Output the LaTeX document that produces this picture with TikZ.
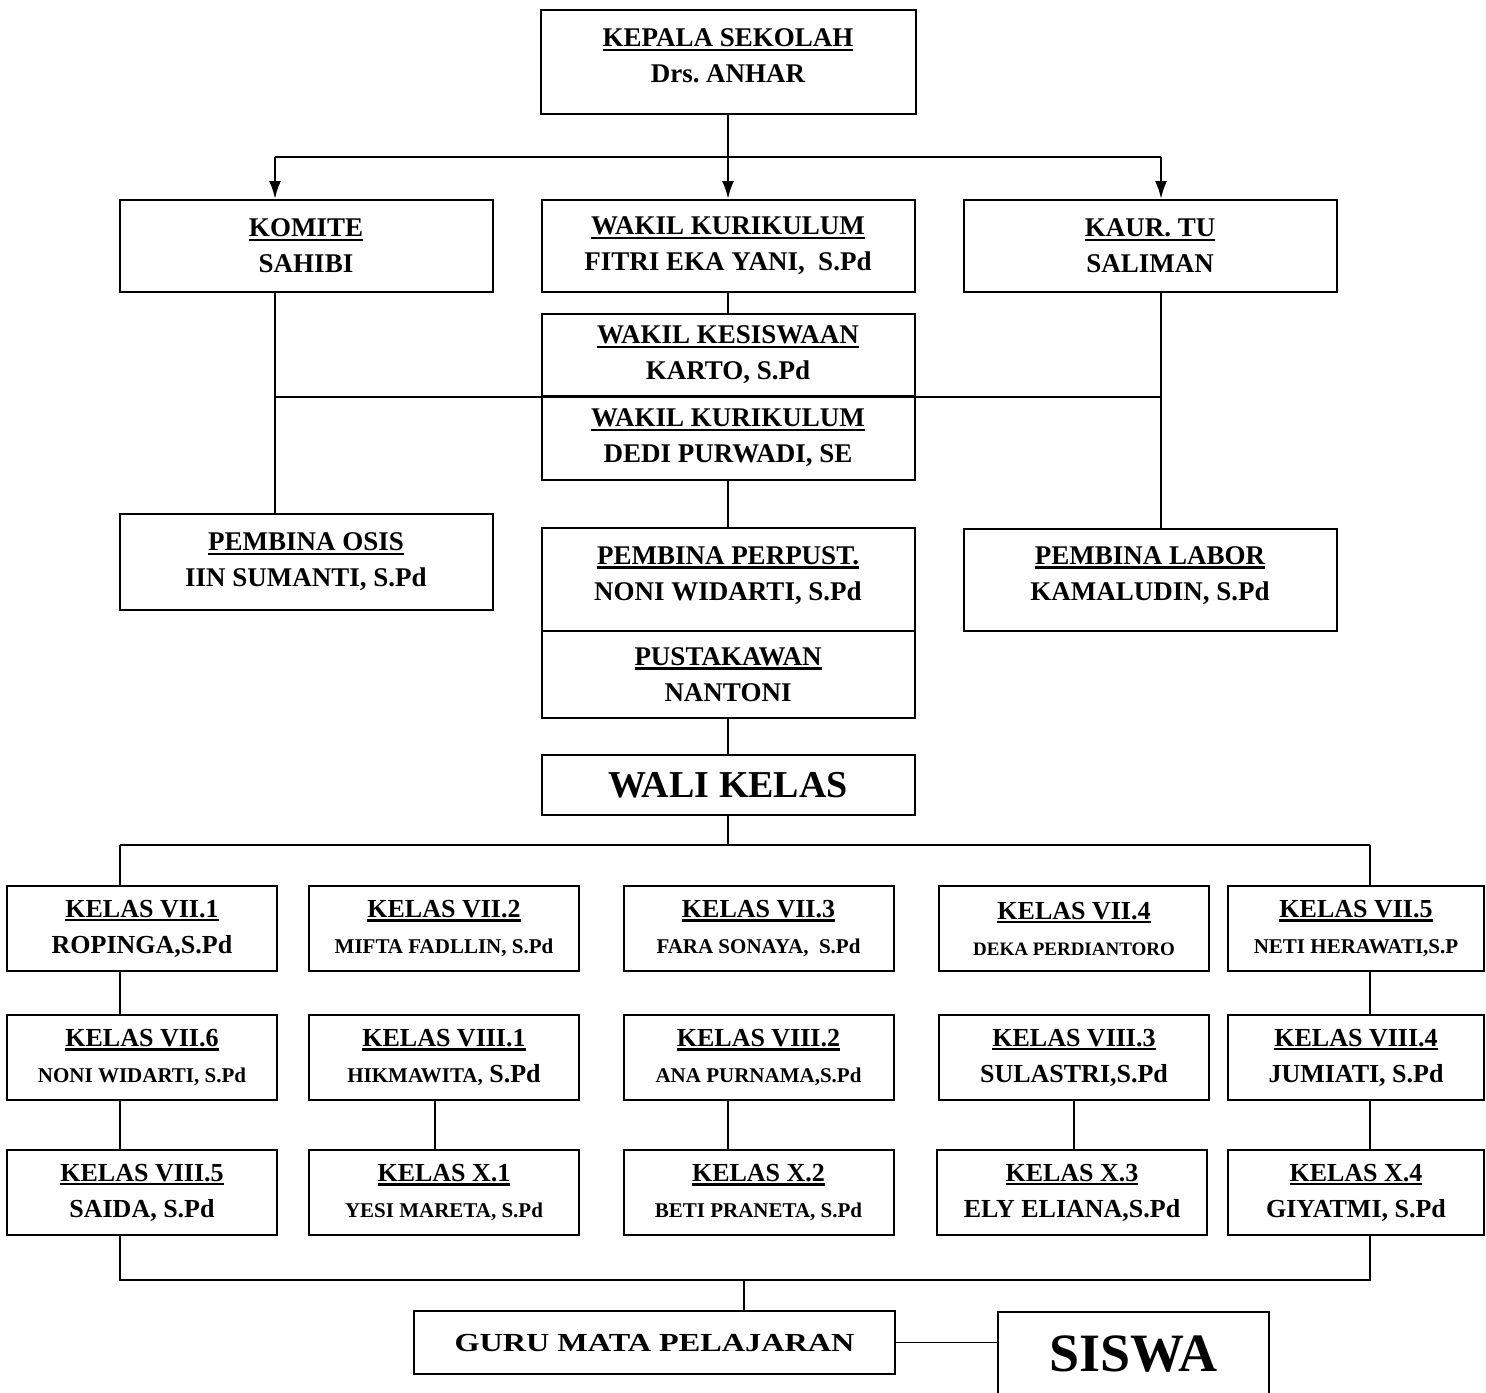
\documentclass[tikz,border=0pt]{standalone}
\usepackage{fontspec}
\setmainfont{Liberation Serif}
\newfontfamily\widefont[FakeStretch=1.24]{Liberation Serif}
\usetikzlibrary{arrows.meta}
\frenchspacing
\newcommand{\headline}[1]{\leavevmode\vtop{\hbox{#1}\kern0.8pt\hrule height 1.1pt}}
\newcommand{\namesmall}{\fontsize{10.5}{18}\selectfont}
\newcommand{\nametiny}{\fontsize{9.5}{18}\selectfont}
\newcommand{\liftup}{\rule[-6pt]{0pt}{6pt}}
\tikzset{%
  >={Latex[width=6pt,length=9pt]},
  % Specifications for style of nodes:
     base/.style = {rectangle, draw=black, line width=1pt, inner sep=2pt,
                    text centered, align=center,
                    font=\fontsize{13}{18}\selectfont\bfseries},
    unitBox/.style = {base, minimum width=186.5pt, minimum height=46pt,
                      font=\fontsize{13.5}{18}\selectfont\bfseries},
    classBox/.style = {base, minimum width=135pt, minimum height=42.5pt},
    lastClassBox/.style = {classBox, minimum width=128pt},
    link/.style = {line width=0.9pt},
}

\begin{document}
\begin{tikzpicture}[x=0.5pt, y=-0.5pt]
  \clip (0,0) rectangle (1486,1392);
  % Specification of nodes (position, etc.)
  \node (kepalaSekolah)   [unitBox, minimum width=187.5pt, minimum height=52pt] at (728,62)
                          {\headline{KEPALA SEKOLAH}\\ Drs. ANHAR\liftup};

  \node (wakilKurikulum)  [unitBox, below of=kepalaSekolah, node distance=92pt]
                          {\headline{WAKIL KURIKULUM}\\ FITRI EKA YANI,\ \ S.Pd};
  \node (komite)          [unitBox, left of=wakilKurikulum, node distance=211pt]
                          {\headline{KOMITE}\\ SAHIBI};
  \node (kaurTu)          [unitBox, right of=wakilKurikulum, node distance=211pt]
                          {\headline{KAUR. TU}\\ SALIMAN};

  \node (wakilKesiswaan)  [unitBox, minimum height=41pt, below of=wakilKurikulum, node distance=54.5pt]
                          {\headline{WAKIL KESISWAAN}\\ KARTO, S.Pd};
  \node (wakilKurikulumDua) [unitBox, minimum height=42pt, below of=wakilKesiswaan, node distance=41.5pt]
                          {\headline{WAKIL KURIKULUM}\\ DEDI PURWADI, SE};

  \node (pembinaPerpust)  [unitBox, minimum height=51.5pt, below of=wakilKurikulumDua, node distance=70.75pt]
                          {\headline{PEMBINA PERPUST.}\\ NONI WIDARTI, S.Pd\liftup};
  \node (pustakawan)      [unitBox, minimum height=43.5pt, below of=pembinaPerpust, node distance=47.5pt]
                          {\headline{PUSTAKAWAN}\\ NANTONI};
  \node (pembinaOsis)     [unitBox, minimum height=48pt, left of=pembinaPerpust, node distance=211pt, yshift=8.75pt]
                          {\headline{PEMBINA OSIS}\\ IIN SUMANTI, S.Pd};
  \node (pembinaLabor)    [unitBox, minimum height=51pt, right of=pembinaPerpust, node distance=211pt]
                          {\headline{PEMBINA LABOR}\\ KAMALUDIN, S.Pd\liftup};

  \node (waliKelas)       [unitBox, minimum height=30pt, below of=pustakawan, node distance=55.25pt,
                           font=\fontsize{19}{22}\selectfont\bfseries]
                          {WALI KELAS};

  % first row of classes
  \node (kelasVIIc)  [classBox, below of=waliKelas, node distance=71.75pt, xshift=15.25pt]
                     {\headline{KELAS VII.3}\\ \namesmall FARA SONAYA,\ \ S.Pd};
  \node (kelasVIIb)  [classBox, left of=kelasVIIc, node distance=157.25pt]
                     {\headline{KELAS VII.2}\\ \namesmall MIFTA FADLLIN, S.Pd};
  \node (kelasVIIa)  [classBox, left of=kelasVIIb, node distance=151pt]
                     {\headline{KELAS VII.1}\\ ROPINGA,S.Pd};
  \node (kelasVIId)  [classBox, right of=kelasVIIc, node distance=157.75pt]
                     {\headline{KELAS VII.4}\\ \nametiny DEKA PERDIANTORO};
  \node (kelasVIIe)  [lastClassBox, right of=kelasVIId, node distance=141pt]
                     {\headline{KELAS VII.5}\\ \namesmall NETI HERAWATI,S.P};

  % second row of classes
  \node (kelasVIIf)   [classBox, below of=kelasVIIa, node distance=64.5pt]
                      {\headline{KELAS VII.6}\\ \namesmall NONI WIDARTI, S.Pd};
  \node (kelasVIIIa)  [classBox, below of=kelasVIIb, node distance=64.5pt]
                      {\headline{KELAS VIII.1}\\ {\namesmall HIKMAWITA,} S.Pd};
  \node (kelasVIIIb)  [classBox, below of=kelasVIIc, node distance=64.5pt]
                      {\headline{KELAS VIII.2}\\ \namesmall ANA PURNAMA,S.Pd};
  \node (kelasVIIIc)  [classBox, below of=kelasVIId, node distance=64.5pt]
                      {\headline{KELAS VIII.3}\\ SULASTRI,S.Pd};
  \node (kelasVIIId)  [lastClassBox, below of=kelasVIIe, node distance=64.5pt]
                      {\headline{KELAS VIII.4}\\ JUMIATI, S.Pd};

  % third row of classes
  \node (kelasVIIIe)  [classBox, below of=kelasVIIf, node distance=67.5pt]
                      {\headline{KELAS VIII.5}\\ SAIDA, S.Pd};
  \node (kelasXa)     [classBox, below of=kelasVIIIa, node distance=67.5pt]
                      {\headline{KELAS X.1}\\ \namesmall YESI MARETA, S.Pd};
  \node (kelasXb)     [classBox, below of=kelasVIIIb, node distance=67.5pt]
                      {\headline{KELAS X.2}\\ \namesmall BETI PRANETA, S.Pd};
  \node (kelasXc)     [classBox, below of=kelasVIIIc, node distance=67.5pt, xshift=-1pt]
                      {\headline{KELAS X.3}\\ ELY ELIANA,S.Pd};
  \node (kelasXd)     [lastClassBox, below of=kelasVIIId, node distance=67.5pt]
                      {\headline{KELAS X.4}\\ GIYATMI, S.Pd};

  \node (guruMapel)  [base, minimum width=240.5pt, minimum height=31.5pt,
                      below of=kelasXb, node distance=75pt, xshift=-52pt,
                      font=\widefont\fontsize{13}{18}\selectfont\bfseries]
                     {GURU MATA PELAJARAN};
  \node (siswa)      [base, minimum width=135.5pt, minimum height=42pt,
                      right of=guruMapel, node distance=239.5pt, yshift=-5.75pt,
                      font=\fontsize{27}{30}\selectfont\bfseries]
                     {SISWA};

  % Specification of lines between nodes specified above
  \coordinate (topBus) at (728,157);
  \coordinate (leftLine) at (275,0);
  \coordinate (rightLine) at (1161,0);
  \coordinate (waliBus) at (728,845);
  \coordinate (colLeft) at (120,0);
  \coordinate (colTwo) at (435,0);
  \coordinate (colThree) at (728,0);
  \coordinate (colRight) at (1370,0);
  \coordinate (guruBus) at (744,1280);

  \draw[->, line width=1.2pt] (kepalaSekolah.south) to (wakilKurikulum.north);
  \draw[line width=1.2pt] (topBus -| leftLine) -- (topBus -| rightLine);
  \draw[->, line width=1.2pt] (topBus -| leftLine) to (komite.north -| leftLine);
  \draw[->, line width=1.2pt] (topBus -| rightLine) to (kaurTu.north -| rightLine);

  \draw[link] (wakilKurikulum.south) to (wakilKesiswaan.north);
  \draw[link] (komite.south -| leftLine) to (pembinaOsis.north -| leftLine);
  \draw[link] (kaurTu.south -| rightLine) to (pembinaLabor.north -| rightLine);
  \draw[link] (leftLine |- wakilKesiswaan.south) -- (rightLine |- wakilKesiswaan.south);
  \draw[link] (wakilKurikulumDua.south) to (pembinaPerpust.north);
  \draw[link] (pustakawan.south) to (waliKelas.north);

  \draw[link] (waliKelas.south) -- (waliBus);
  \draw[link] (waliBus -| colLeft) -- (waliBus -| colRight);
  \draw[link] (waliBus -| colLeft) -- (kelasVIIa.north -| colLeft);
  \draw[link] (waliBus -| colRight) -- (kelasVIIe.north -| colRight);

  \draw[link] (kelasVIIa.south -| colLeft) -- (kelasVIIf.north -| colLeft);
  \draw[link] (kelasVIIf.south -| colLeft) -- (kelasVIIIe.north -| colLeft);
  \draw[link] (kelasVIIIa.south -| colTwo) -- (kelasXa.north -| colTwo);
  \draw[link] (kelasVIIIb.south -| colThree) -- (kelasXb.north -| colThree);
  \draw[link] (kelasVIIIc.south) -- (kelasVIIIc.south |- kelasXc.north);
  \draw[link] (kelasVIIe.south -| colRight) -- (kelasVIIId.north -| colRight);
  \draw[link] (kelasVIIId.south -| colRight) -- (kelasXd.north -| colRight);

  \draw[link] (kelasVIIIe.south -| colLeft) |- (guruBus) -| (kelasXd.south -| colRight);
  \draw[link] (guruBus) -- (guruMapel.north -| guruBus);
  \draw[link] (guruMapel.east) -- (siswa.west |- guruMapel.east);
\end{tikzpicture}
\end{document}
